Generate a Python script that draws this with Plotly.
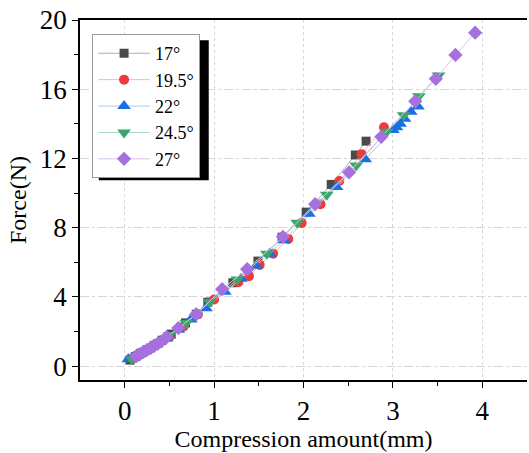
import plotly.graph_objects as go

labels = ["17°", "19.5°", "22°", "24.5°", "27°"]

x17 = [0.06, 0.12, 0.18, 0.25, 0.33, 0.42, 0.52, 0.68, 0.80, 0.93, 1.21, 1.49, 1.76, 2.03, 2.31, 2.58, 2.70]
y17 = [0.35, 0.55, 0.75, 0.95, 1.2, 1.5, 1.85, 2.5, 3.0, 3.7, 4.82, 6.07, 7.45, 8.9, 10.5, 12.2, 13.0]

x195 = [0.09, 0.15, 0.21, 0.28, 0.37, 0.50, 0.66, 0.82, 1.00, 1.27, 1.39, 1.51, 1.66, 1.83, 1.98, 2.19, 2.40, 2.65, 2.90]
y195 = [0.45, 0.6, 0.8, 1.0, 1.3, 1.7, 2.3, 3.0, 3.85, 4.85, 5.2, 5.85, 6.5, 7.35, 8.27, 9.36, 10.7, 12.25, 13.8]

x22 = [0.04, 0.10, 0.17, 0.25, 0.35, 0.47, 0.60, 0.74, 0.91, 1.12, 1.30, 1.47, 1.62, 1.78, 2.06, 2.37, 2.69, 3.00, 3.04, 3.08, 3.13, 3.20, 3.28]
y22 = [0.4, 0.55, 0.72, 0.95, 1.25, 1.6, 2.1, 2.7, 3.35, 4.3, 5.05, 5.8, 6.5, 7.28, 8.8, 10.35, 11.95, 13.65, 13.8, 14.0, 14.3, 14.7, 15.0]

x245 = [0.08, 0.14, 0.20, 0.28, 0.38, 0.50, 0.69, 0.95, 1.26, 1.59, 1.93, 2.26, 2.59, 2.93, 3.12, 3.29, 3.51]
y245 = [0.4, 0.58, 0.78, 1.0, 1.35, 1.8, 2.5, 3.7, 5.0, 6.5, 8.28, 9.9, 11.6, 13.55, 14.5, 15.6, 16.8]

x27 = [0.13, 0.17, 0.21, 0.25, 0.29, 0.33, 0.37, 0.41, 0.47, 0.60, 0.80, 1.09, 1.37, 1.77, 2.13, 2.51, 2.87, 3.25, 3.48, 3.70, 3.92]
y27 = [0.58, 0.7, 0.82, 0.94, 1.06, 1.18, 1.3, 1.43, 1.68, 2.2, 3.0, 4.45, 5.6, 7.47, 9.36, 11.2, 13.25, 15.3, 16.6, 17.98, 19.27]

xs = [x17, x195, x22, x245, x27]
ys = [y17, y195, y22, y245, y27]
symbols = ["square", "circle", "triangle-up", "triangle-down", "diamond"]
mcolors = ["#4a4a4a", "#ec3b3b", "#1c6ee6", "#3aa66c", "#a670de"]
lcolors = ["#b0b0b0", "#f4b8b8", "#a9ccf2", "#a6d9bd", "#d8c4ee"]
msizes = [9, 10, 12, 12, 11]

fig = go.Figure()
for i in range(5):
    fig.add_trace(go.Scatter(
        x=xs[i], y=ys[i], name=labels[i], mode="lines+markers",
        line=dict(color=lcolors[i], width=1),
        marker=dict(symbol=symbols[i], color=mcolors[i], size=msizes[i], line=dict(width=0)),
    ))

font_family = "Liberation Serif, Times New Roman, serif"
fig.update_layout(
    width=529, height=453,
    margin=dict(l=80, r=2, t=20, b=73),
    plot_bgcolor="white", paper_bgcolor="white",
    font=dict(family=font_family, color="black"),
    showlegend=True,
    legend=dict(
        x=0.027, y=0.961, xanchor="left", yanchor="top",
        bgcolor="white", bordercolor="#999999", borderwidth=1,
        font=dict(family=font_family, size=18, color="black"),
        itemwidth=52, tracegroupgap=0,
    ),
    xaxis=dict(
        range=[-0.5, 4.5], tickvals=[0, 1, 2, 3, 4],
        ticks="outside", ticklen=6, tickwidth=1, tickcolor="black",
        minor=dict(tickvals=[0.5, 1.5, 2.5, 3.5], ticks="outside", ticklen=4, tickcolor="black", showgrid=False),
        showline=True, linecolor="black", linewidth=1.5, mirror=True,
        showgrid=True, gridcolor="#d6d6d6", griddash="dot", gridwidth=1,
        zeroline=False,
        tickfont=dict(size=27),
        title=dict(text="Compression amount(mm)", font=dict(size=24), standoff=4),
    ),
    yaxis=dict(
        range=[-0.8, 20], tickvals=[0, 4, 8, 12, 16, 20],
        ticks="outside", ticklen=6, tickwidth=1, tickcolor="black",
        minor=dict(tickvals=[2, 6, 10, 14, 18], ticks="outside", ticklen=4, tickcolor="black", showgrid=False),
        showline=True, linecolor="black", linewidth=1.5,
        showgrid=True, gridcolor="#d6d6d6", griddash="dashdot", gridwidth=1,
        zeroline=False,
        tickfont=dict(size=27),
        title=dict(text="Force(N)", font=dict(size=24), standoff=6),
    ),
)

fig.add_shape(type="rect", xref="paper", yref="paper",
              x0=0.042, x1=0.288, y0=0.555, y1=0.944,
              fillcolor="black", line=dict(width=0), layer="above")

fig.write_html("out.html")
